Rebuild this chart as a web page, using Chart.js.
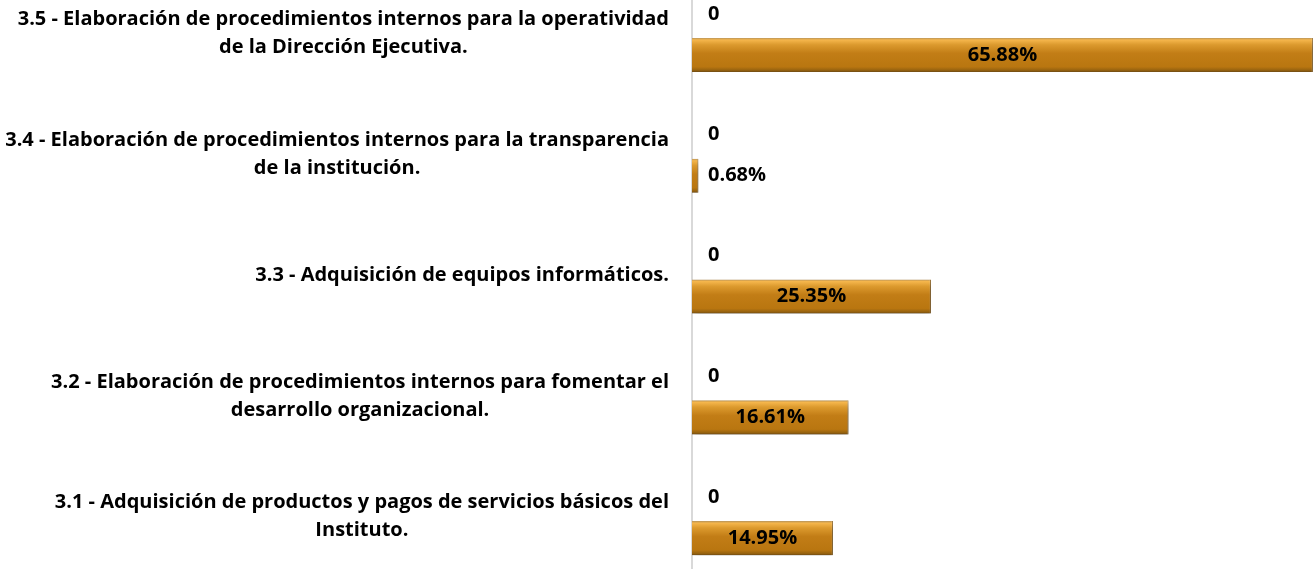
<!DOCTYPE html>
<html>
<head>
<meta charset="utf-8">
<script src="https://cdn.jsdelivr.net/npm/chart.js@4.4.0/dist/chart.umd.min.js"></script>
<style>
    html, body { margin: 0; padding: 0; background: #fff; overflow: hidden; }
    #wrap { position: relative; width: 1314px; height: 569px; overflow: hidden; }
    #wrap canvas { position: absolute; left: 0; top: -26px; }
</style>
</head>
<body>
<div id="wrap"><canvas id="chart" width="1314" height="604" style="width:1314px;height:604px"></canvas></div>
<script>
const categories = [
    ['3.5 - Elaboración de procedimientos internos para la operatividad', 'de la Dirección Ejecutiva.'],
    ['3.4 - Elaboración de procedimientos internos para la transparencia', 'de la institución.'],
    ['3.3 - Adquisición de equipos informáticos.'],
    ['3.2 - Elaboración de procedimientos internos para fomentar el', 'desarrollo organizacional.'],
    ['3.1 - Adquisición de productos y pagos de servicios básicos del', 'Instituto.'],
];
const plannedValues = [0, 0, 0, 0, 0];
const progressValues = [65.88, 0.68, 25.35, 16.61, 14.95];

const FONT = "'Open Sans', sans-serif";
const CAT_PCT = 0.68;
const BAR_PCT = 0.83;

// ── Bar gradient, computed from the y scale ──

function barGradient(ctx) {
    const chart = ctx.chart;
    const ys = chart.scales.y;
    if (!ys || ctx.dataIndex == null) return '#c47f17';
    const p0 = ys.getPixelForValue(0);
    const p1 = ys.getPixelForValue(1);
    if (!isFinite(p0) || !isFinite(p1) || p0 === p1) return '#c47f17';
    const catSize = Math.abs(p1 - p0);
    const slot = catSize * CAT_PCT / 2;
    const center = ys.getPixelForValue(ctx.dataIndex) - catSize * CAT_PCT / 2 + slot * (ctx.datasetIndex + 0.5);
    const half = slot * BAR_PCT / 2;
    const g = chart.ctx.createLinearGradient(0, center - half, 0, center + half);
    g.addColorStop(0, '#b8945a');
    g.addColorStop(0.06, '#f5b64c');
    g.addColorStop(0.2, '#dc9a2e');
    g.addColorStop(0.45, '#c27d16');
    g.addColorStop(0.85, '#b97610');
    g.addColorStop(0.95, '#96620f');
    g.addColorStop(1, '#6e4a14');
    return g;
}

// ── Shadow under bars ──

const barShadow = {
    id: 'barShadow',
    beforeDatasetDraw(chart) {
        const c = chart.ctx;
        c.save();
        c.shadowColor = 'rgba(0,0,0,0.4)';
        c.shadowBlur = 7;
        c.shadowOffsetY = 5;
        c.shadowOffsetX = 1;
    },
    afterDatasetDraw(chart) {
        chart.ctx.restore();
    }
};

// ── Category labels: block right-aligned, lines centred ──

const catLabels = {
    id: 'catLabels',
    afterDraw(chart) {
        const c = chart.ctx;
        const ys = chart.scales.y;
        const right = chart.chartArea.left - 23;
        const lineH = 28;
        c.save();
        c.font = 'bold 20px ' + FONT;
        c.fillStyle = '#000';
        c.textAlign = 'center';
        c.textBaseline = 'middle';
        categories.forEach((lines, i) => {
            const w = Math.max(...lines.map(l => c.measureText(l).width));
            const cx = right - w / 2;
            const mid = ys.getPixelForValue(i) - 1;
            lines.forEach((l, j) => {
                c.fillText(l, cx, mid + (j - (lines.length - 1) / 2) * lineH);
            });
        });
        c.restore();
    }
};

// ── Value labels ──

const valueLabels = {
    id: 'valueLabels',
    afterDatasetsDraw(chart) {
        const c = chart.ctx;
        c.save();
        c.font = 'bold 20px ' + FONT;
        c.fillStyle = '#000';
        c.textBaseline = 'middle';
        chart.data.datasets.forEach((ds, di) => {
            chart.getDatasetMeta(di).data.forEach((bar, i) => {
                const v = ds.data[i];
                const txt = di === 0 ? String(v) : v.toFixed(2) + '%';
                const w = c.measureText(txt).width;
                const len = bar.x - bar.base;
                if (di === 1 && len > w + 10) {
                    c.textAlign = 'center';
                    c.fillText(txt, bar.base + len / 2, bar.y);
                } else {
                    c.textAlign = 'left';
                    c.fillText(txt, bar.base + 16, bar.y);
                }
            });
        });
        c.restore();
    }
};

new Chart(document.getElementById('chart'), {
    type: 'bar',
    data: {
        labels: categories.map(l => l.join(' ')),
        datasets: [
            {
                label: 'Meta',
                data: plannedValues,
                backgroundColor: barGradient,
                borderWidth: 0,
                categoryPercentage: CAT_PCT,
                barPercentage: BAR_PCT,
            },
            {
                label: 'Avance',
                data: progressValues,
                backgroundColor: barGradient,
                borderColor: '#8a5c14',
                borderWidth: { top: 0, bottom: 0, left: 0, right: 1 },
                borderSkipped: 'left',
                categoryPercentage: CAT_PCT,
                barPercentage: BAR_PCT,
            }
        ]
    },
    options: {
        indexAxis: 'y',
        responsive: false,
        animation: false,
        layout: { padding: { left: 684, right: 0, top: 0, bottom: 0 } },
        plugins: {
            legend: { display: false },
            tooltip: { enabled: false }
        },
        scales: {
            x: { display: false, min: 0, max: 66 },
            y: {
                grid: { display: false },
                ticks: { display: false },
                border: { display: true, color: '#d9d9d9', width: 2 }
            }
        }
    },
    plugins: [barShadow, catLabels, valueLabels]
});
</script>
</body>
</html>
